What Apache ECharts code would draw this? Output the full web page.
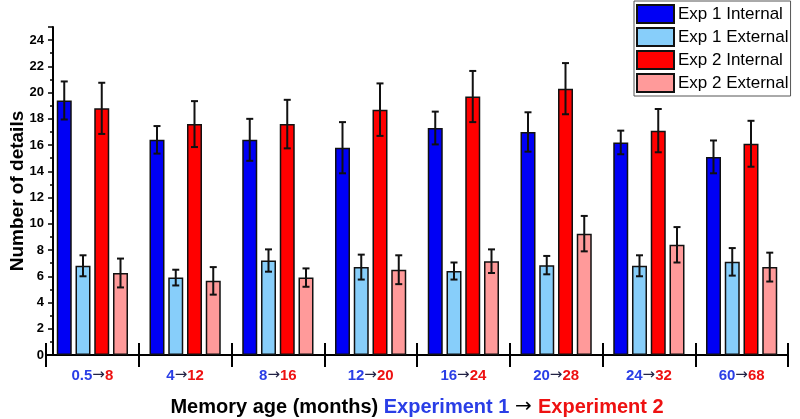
<!DOCTYPE html>
<html>
<head>
<meta charset="utf-8">
<script src="https://cdn.jsdelivr.net/npm/echarts@6/dist/echarts.min.js"></script>
<style>
html, body { margin: 0; padding: 0; background: #fff; }
#main { width: 800px; height: 419px; }
</style>
</head>
<body>
<div id="main"></div>
<script>
// memory age per block, experiment 1 -> experiment 2
var ageExp1 = ['0.5', '4', '8', '12', '16', '20', '24', '60'];
var ageExp2 = ['8', '12', '16', '20', '24', '28', '32', '68'];
var seriesNames = ['Exp 1 Internal', 'Exp 1 External', 'Exp 2 Internal', 'Exp 2 External'];

var exp1Internal = [19.4, 16.4, 16.4, 15.8, 17.3, 17.0, 16.2, 15.1];
var exp1InternalErr = [1.45, 1.05, 1.6, 1.95, 1.25, 1.5, 0.9, 1.25];
var exp1External = [6.8, 5.9, 7.2, 6.7, 6.4, 6.85, 6.8, 7.1];
var exp1ExternalErr = [0.8, 0.6, 0.85, 0.95, 0.65, 0.7, 0.8, 1.05];
var exp2Internal = [18.8, 17.6, 17.6, 18.7, 19.7, 20.3, 17.1, 16.1];
var exp2InternalErr = [1.95, 1.75, 1.85, 2.0, 1.95, 1.95, 1.65, 1.75];
var exp2External = [6.25, 5.65, 5.9, 6.5, 7.15, 9.25, 8.4, 6.7];
var exp2ExternalErr = [1.1, 1.05, 0.7, 1.1, 0.9, 1.35, 1.35, 1.1];

var categories = ageExp1.map(function (a, i) { return a + '|' + ageExp2[i]; });
var values = [exp1Internal, exp1External, exp2Internal, exp2External];
var errors = [exp1InternalErr, exp1ExternalErr, exp2InternalErr, exp2ExternalErr];
var colors = ['#0000f5', '#87cefa', '#ff0000', '#ff9a9a'];

var barW = 15;
var barGapPx = 3.75;

var font = 'Liberation Sans, Arial, sans-serif';
var arrowFont = 'DejaVu Sans, sans-serif';
var blueTxt = '#2a3ee6';
var redTxt = '#ee1111';

var series = [];
values.forEach(function (vals, k) {
    series.push({
        name: seriesNames[k],
        type: 'bar',
        data: vals,
        barWidth: barW,
        barGap: (barGapPx / barW * 100) + '%',
        itemStyle: { color: colors[k], borderColor: '#111', borderWidth: 1.5 },
        emphasis: { disabled: true }
    });
});
// error bars
values.forEach(function (vals, k) {
    var off = (k - 1.5) * (barW + barGapPx);
    series.push({
        type: 'custom',
        name: seriesNames[k] + ' err',
        z: 5,
        silent: true,
        data: vals.map(function (v, i) { return [i, v, errors[k][i]]; }),
        renderItem: function (params, api) {
            var i = api.value(0), v = api.value(1), e = api.value(2);
            var x = api.coord([i, v])[0] + off;
            var yt = api.coord([i, v + e])[1];
            var yb = api.coord([i, v - e])[1];
            var st = { stroke: '#111', lineWidth: 2 };
            return {
                type: 'group',
                children: [
                    { type: 'line', shape: { x1: x, y1: yt, x2: x, y2: yb }, style: st },
                    { type: 'line', shape: { x1: x - 3.5, y1: yt, x2: x + 3.5, y2: yt }, style: st },
                    { type: 'line', shape: { x1: x - 3.5, y1: yb, x2: x + 3.5, y2: yb }, style: st }
                ]
            };
        }
    });
});

var myChart = echarts.init(document.getElementById('main'));
myChart.setOption({
    animation: false,
    textStyle: { fontFamily: font },
    grid: { left: 46, right: 12, top: 27, bottom: 64, outerBoundsMode: 'none', containLabel: false },
    legend: {
        data: seriesNames,
        orient: 'vertical',
        left: 634,
        top: 1,
        itemWidth: 37,
        itemHeight: 18,
        itemGap: 3,
        padding: [3, 2, 3, 2],
        borderColor: '#555',
        borderWidth: 1,
        icon: 'rect',
        textStyle: { fontSize: 17, lineHeight: 18, color: '#000', fontFamily: font, padding: [0, 0, 0, -1] }
    },
    xAxis: [{
        type: 'category',
        data: categories,
        axisLine: { lineStyle: { color: '#000', width: 2 } },
        axisTick: { show: true, interval: 0, length: 12, lineStyle: { color: '#000', width: 2 } },
        axisLabel: {
            interval: 0,
            margin: 13,
            formatter: function (v) {
                var p = v.split('|');
                return '{a|' + p[0] + '}{r|→}{b|' + p[1] + '}';
            },
            rich: {
                a: { color: blueTxt, fontWeight: 'bold', fontSize: 15, fontFamily: font },
                r: { color: '#222244', fontWeight: 'normal', fontSize: 15, fontFamily: arrowFont },
                b: { color: redTxt, fontWeight: 'bold', fontSize: 15, fontFamily: font }
            }
        },
        name: '{k|Memory age (months) }{a|Experiment 1 }{r|→ }{b|Experiment 2}',
        nameLocation: 'middle',
        nameGap: 42,
        nameMoveOverlap: false,
        nameTextStyle: {
            rich: {
                k: { color: '#000', fontWeight: 'bold', fontSize: 20, fontFamily: font },
                a: { color: blueTxt, fontWeight: 'bold', fontSize: 20, fontFamily: font },
                r: { color: '#000', fontWeight: 'normal', fontSize: 20, fontFamily: arrowFont },
                b: { color: redTxt, fontWeight: 'bold', fontSize: 20, fontFamily: font }
            }
        }
    }, {
        type: 'category',
        data: categories,
        position: 'bottom',
        axisLine: { show: false },
        axisTick: { show: true, interval: 0, inside: true, length: 12, lineStyle: { color: '#000', width: 2 } },
        axisLabel: { show: false }
    }],
    yAxis: {
        type: 'value',
        min: 0,
        max: 25,
        interval: 2,
        offset: -7,
        splitLine: { show: false },
        axisLine: { show: true, lineStyle: { color: '#000', width: 2 } },
        axisTick: { show: true, length: 5, lineStyle: { color: '#000', width: 1.5 } },
        minorTick: { show: true, splitNumber: 2, length: 3, lineStyle: { color: '#000', width: 1.5 } },
        axisLabel: { margin: 9, showMaxLabel: false, color: '#000', fontWeight: 'bold', fontSize: 13, fontFamily: font },
        name: 'Number of details',
        nameLocation: 'middle',
        nameGap: 26,
        nameMoveOverlap: false,
        nameTextStyle: { color: '#000', fontWeight: 'bold', fontSize: 19, fontFamily: font }
    },
    series: series
});
</script>
</body>
</html>
